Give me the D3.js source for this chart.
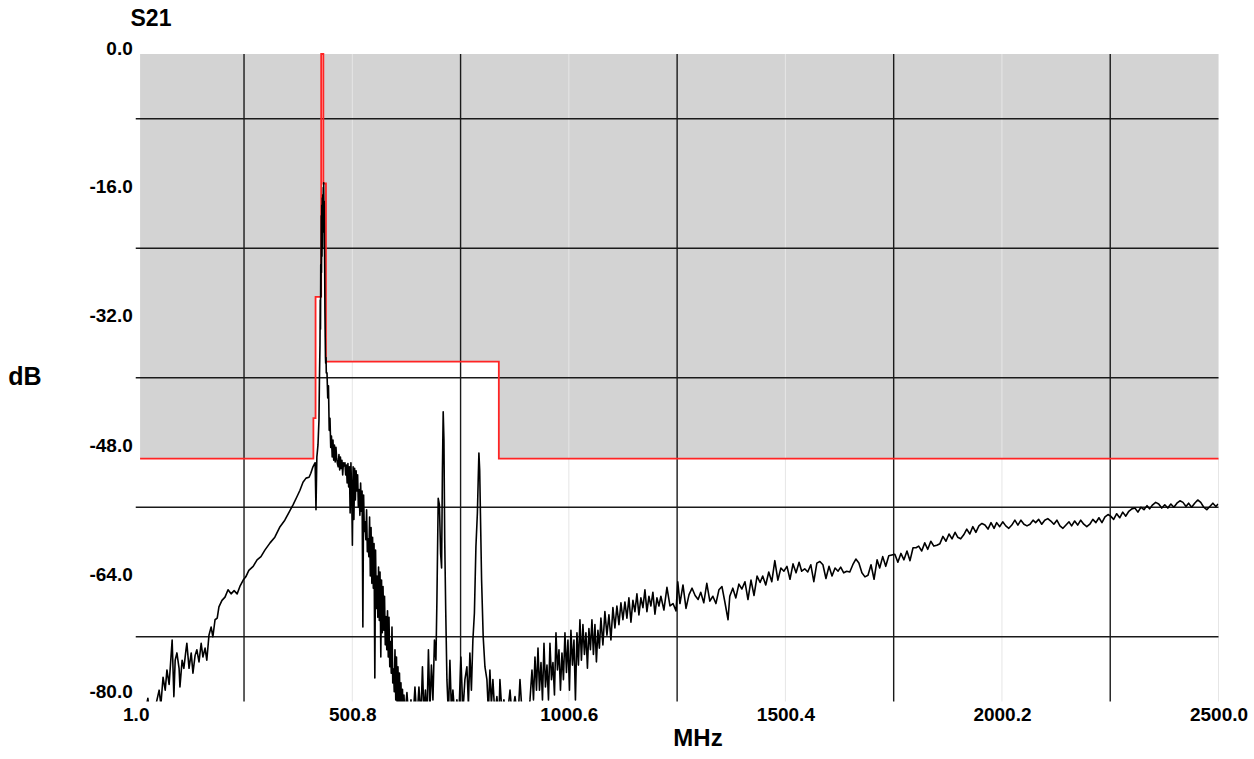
<!DOCTYPE html>
<html><head><meta charset="utf-8">
<script src="https://cdn.jsdelivr.net/npm/d3@7"></script>
<style>
body{margin:0;background:#fff}
svg{display:block}
text{font-family:"Liberation Sans",Arial,Helvetica,sans-serif;font-weight:bold;fill:#000}
</style>
</head><body>
<svg id="chart" width="1254" height="759"></svg>
<script>
// ---- axis / grid values ----
const xTicks = [1.0, 500.8, 1000.6, 1500.4, 2000.2, 2500.0];
const xGridMajor = [250.9, 750.7, 1250.5, 1750.3, 2250.1];
const yTicks = [0, -16, -32, -48, -64, -80];
const yGridMajor = [-8, -24, -40, -56, -72];

// ---- limit mask (step edges in MHz, levels in dB) ----
const limitFreq = [11, 411, 416, 429, 434, 440, 839, 2500];
const limitDb = [-50, -45, -30, 0, -16, -38, -50];

// ---- measured S21 trace [MHz, dB] ----
const riseTrace = [[11,-82],[20,-82],[29,-79.6],[34,-82],[43,-81.5],[50,-79.8],[55,-78.6],[59,-80.4],[64,-77],[69,-78.6],[73,-76.1],[78,-77.9],[85,-72.4],[89,-79.4],[92,-74.9],[96,-74],[101,-75.9],[103,-78.2],[108,-74.9],[112,-75.9],[117,-73.6],[119,-72.8],[124,-75.9],[129,-74],[133,-76.5],[138,-74.3],[142,-73.6],[147,-75.1],[152,-72.8],[156,-74.5],[161,-73.4],[165,-74.9],[170,-71.8],[175,-70.8],[179,-72],[184,-69.9],[189,-69.7],[193,-68.3],[200,-67.5],[207,-67.1],[214,-66.2],[221,-66.7],[228,-66.3],[235,-66.7],[242,-65.7],[249,-65],[255,-64.6],[262,-63.8],[272,-63.3],[281,-62.5],[290,-62.1],[299,-61.3],[311,-60.4],[322,-59.7],[334,-58.4],[345,-57.6],[355,-56.6],[364,-55.7],[373,-54.7],[380,-53.9],[387,-52.9],[394,-52.4],[401,-52.3],[405,-51.8],[410,-51],[415,-50.5],[417,-56.3],[419,-49.8]];

const peakTrace = [[421.6,-48.3],[423.9,-45.2],[425,-40],[426.2,-36],[426.8,-30.4],[427.4,-34],[428,-26],[428.6,-30],[429.2,-20],[429.7,-27],[430.3,-18.7],[430.9,-25],[431.5,-17.8],[432,-24],[432.6,-17.4],[433.2,-22],[433.8,-16.5],[434.4,-20],[434.8,-15.9],[435.4,-19],[436,-18.2],[436.6,-24],[437.1,-27],[437.7,-32],[438.3,-35],[438.9,-37.5],[439.4,-38.2],[440.2,-37.5],[440.8,-39.4],[442.4,-39.4],[444.1,-42.5],[445.8,-41],[447.5,-46.5],[449.3,-45],[451,-48.6],[452.7,-47.2],[454.4,-49.8],[456.2,-47.7],[457.9,-50.2],[459.6,-48.3],[461.3,-50.4],[463.1,-48.6],[464.8,-50],[466.5,-50.6],[468.2,-51],[470,-49.5],[471.7,-51.4],[473.4,-49.8],[475.1,-51.2],[476.9,-50.2],[478.6,-52],[480.3,-50.5],[482,-50.9],[483.8,-50.5],[485.5,-52],[487.2,-50.8],[488.9,-53],[490.7,-50.6],[492.4,-53.5],[494.1,-51],[495.8,-56.7],[497.6,-50.5],[499.3,-53.9],[501,-60.7],[502.7,-51],[504.5,-57.5],[506.2,-51.2],[507.9,-55.1],[509.6,-51.5],[511.4,-54],[513.1,-52],[514.8,-56],[516.5,-53.8],[518.3,-57],[520,-53],[521.7,-56.5],[523.4,-54],[525.2,-70.8],[526.9,-54.5],[528.6,-59],[530.3,-57.8],[532.1,-60],[533.8,-56.3],[535.5,-61.5],[537.2,-59.9],[539,-62.1],[540.7,-57.2],[542.4,-64.5],[544.1,-58.5],[545.9,-65.4],[547.6,-59.7],[549.3,-66],[551,-60.5],[552.8,-77.1],[554.5,-61.3],[556.2,-68.5],[557.9,-64.5],[559.7,-69.6],[561.4,-63.4],[563.1,-70],[564.8,-64],[566.6,-74.5],[568.3,-65],[570,-71.5],[571.7,-65.8],[573.5,-71.2],[575.2,-67],[576.9,-73],[578.6,-69.5],[580.4,-73.6],[582.1,-68.8],[583.8,-74.5],[585.5,-69.6],[587.3,-75.7],[589,-72.6],[590.7,-76.5],[592.4,-70.8],[594.2,-77.7],[595.9,-76],[597.6,-78.8],[599.3,-73.6],[601.1,-79.8],[602.8,-74.5],[604.5,-81],[606.2,-75.7],[608,-81],[609.7,-76.5],[611.4,-81.3],[613.1,-77.7],[614.9,-82],[616.6,-78.5],[618.3,-82],[620,-79.2],[622.3,-81.7],[626.9,-78.9],[631.5,-82.3],[636.2,-79.8],[640.8,-82.5],[645.4,-78.2],[650,-82.3],[654.6,-78.2],[659.3,-81.9],[662.7,-75.7],[666.2,-81.7],[669.6,-78.6],[673.1,-82.3],[676.5,-73.6],[680,-81],[683.4,-75.5],[686.9,-79.8],[690.4,-72.4],[693.8,-74.9]];

const spurTrace = [[696.1,-67.5],[699.1,-54.9],[701.9,-55.7],[704.6,-61.7],[706.9,-63.5],[708.8,-51.4],[710.6,-44.2],[712.3,-47.7],[714.1,-60],[716.4,-68.7],[719.2,-77.3],[722.6,-81.7],[726.1,-74.9],[729.5,-81],[733,-78.6],[737.6,-81.9],[742.2,-79.8],[746.8,-81.7],[751.4,-74.5],[756.1,-81.3],[760.7,-77.3],[765.3,-75.7],[768.8,-80.4],[772.2,-74],[775.7,-78.6],[779.1,-72.4],[782.6,-69.1],[786.1,-60.9],[789.5,-56.7],[791.4,-52.6],[793,-49.3],[794.8,-51.4],[796.5,-56.7],[799.2,-65],[802.9,-72],[806.9,-75.7],[811.5,-77.3],[814.9,-81.3],[818.4,-76.1],[821.8,-80.4],[825.3,-77.3],[829.9,-81.7],[834.5,-79.4],[839.2,-82.3],[841.5,-77.3],[846.1,-81.3],[850.7,-79.8],[857.6,-82.3],[864.8,-78.6],[869.4,-81.7],[876.3,-79.4],[883.2,-82.3],[887.8,-77.3],[892.5,-81.3],[899.4,-80.4],[906.3,-82.3],[910.9,-79.8]];

const recoveryTrace = [[915.5,-76.1],[919,-79.8],[922.4,-74.5],[925.9,-78.6],[929.4,-73.4],[932.8,-78.6],[936.3,-75.2],[939.7,-79.8],[943.2,-72.8],[946.6,-78.2],[950.1,-75.5],[953.6,-79.8],[957,-72.8],[960.5,-77.3],[963.9,-75.2],[967.4,-79.2],[970.9,-71.5],[974.3,-76.1],[977.8,-73.6],[981.2,-78.6],[984.7,-74],[988.1,-77.3],[991.6,-71.5],[995.1,-76.4],[998.5,-72.4],[1002,-78.6],[1005.4,-71.2],[1008.9,-75.5],[1012.4,-72.4],[1015.8,-79.8],[1019.3,-71.5],[1022.7,-75.5],[1026.2,-69.9],[1029.6,-74.9],[1033.1,-70.5],[1036.6,-74.2],[1040,-71.5],[1043.5,-75.9],[1046.9,-71],[1050.4,-73.6],[1053.9,-69.9],[1057.3,-74.2],[1060.8,-70.5],[1064.2,-75.1],[1067.7,-71.2],[1071.1,-73.4],[1074.6,-69.7],[1079.2,-73],[1083.8,-68.9],[1088.5,-71.8],[1093.1,-69.3],[1097.7,-72.4],[1102.3,-68.4],[1106.9,-70.9],[1111.5,-68.2],[1116.2,-70.5],[1120.8,-67.8],[1125.4,-69.9],[1130,-67.7],[1134.6,-69.7],[1139.2,-67.2],[1143.9,-70.2],[1148.5,-67.5],[1153.1,-68.9],[1157.7,-66.7],[1162.3,-69.3],[1166.9,-67.2],[1171.6,-68.4],[1176.2,-66.2],[1180.8,-68.9],[1185.4,-67],[1190,-68.2],[1194.6,-66.5],[1199.3,-69.2],[1203.9,-67.2],[1208.5,-68.2]];

const tailTrace = [[1213,-67],[1220,-68.7],[1227,-65.9],[1234,-68.2],[1241,-67.9],[1248,-68.8],[1252,-65.2],[1257,-67.9],[1264,-65.6],[1271,-68.5],[1278,-66.8],[1285,-66],[1292,-66.9],[1299,-67.4],[1305,-66.5],[1312,-67.8],[1319,-65.4],[1326,-67.6],[1333,-67],[1340,-67.9],[1347,-66.2],[1354,-65.8],[1361,-67.8],[1368,-69.9],[1372,-67],[1379,-66],[1386,-67.2],[1393,-65.5],[1400,-66.1],[1407,-65.2],[1414,-67.4],[1421,-65],[1428,-66.9],[1435,-64.5],[1442,-65.3],[1448,-64.5],[1455,-65.6],[1462,-64],[1469,-65.2],[1476,-62.6],[1483,-65],[1490,-63.5],[1497,-63.9],[1504,-63.3],[1511,-64.9],[1518,-63],[1525,-64.1],[1532,-62.8],[1538,-63.9],[1545,-63.6],[1552,-64],[1559,-63.1],[1566,-65.2],[1573,-62.9],[1580,-62.7],[1587,-63.1],[1594,-64.8],[1601,-63.3],[1608,-64.5],[1615,-63.5],[1622,-63.9],[1628,-63.4],[1635,-64.1],[1642,-63.9],[1649,-64],[1656,-63.1],[1663,-62.4],[1670,-62.9],[1677,-64.1],[1684,-64.6],[1691,-64.4],[1698,-63.1],[1705,-64.9],[1712,-62.5],[1718,-63.5],[1725,-62.1],[1732,-63.3],[1739,-62],[1746,-61.9],[1753,-61.8],[1760,-62.8],[1767,-61.7],[1774,-62.5],[1781,-61.4],[1788,-62.6],[1795,-61],[1802,-61],[1808,-60.8],[1815,-61.4],[1822,-60.4],[1829,-61.2],[1836,-60.2],[1843,-60.8],[1850,-60.7],[1857,-60.5],[1864,-59.6],[1871,-60.2],[1878,-59.3],[1885,-59.9],[1892,-59.1],[1898,-59.7],[1905,-59.9],[1912,-59.4],[1919,-58.7],[1926,-59.3],[1933,-58.4],[1940,-59.1],[1947,-58.3],[1954,-58],[1961,-58.2],[1968,-58.7],[1975,-57.9],[1982,-58.6],[1988,-57.9],[1995,-58.4],[2002,-57.8],[2009,-58.3],[2016,-58.6],[2023,-58.2],[2030,-57.6],[2037,-58.2],[2044,-57.6],[2051,-58.1],[2058,-58.3],[2065,-58.1],[2072,-57.6],[2078,-57.9],[2085,-57.5],[2092,-58.1],[2099,-57.6],[2106,-57.4],[2113,-57.7],[2120,-58.1],[2127,-57.6],[2134,-58.3],[2141,-58.6],[2148,-58.2],[2155,-57.8],[2161,-58.3],[2168,-57.7],[2175,-58.2],[2182,-57.6],[2189,-58.1],[2196,-58.4],[2203,-58.1],[2210,-57.5],[2217,-57.9],[2224,-57.3],[2231,-57.9],[2238,-57.2],[2245,-56.9],[2251,-57.1],[2258,-57.5],[2265,-56.8],[2272,-57.3],[2279,-56.6],[2286,-57.1],[2293,-56.5],[2300,-56.2],[2307,-56.1],[2314,-56.6],[2321,-56],[2328,-56.3],[2335,-55.8],[2341,-56.2],[2348,-55.7],[2355,-55.4],[2362,-55.6],[2369,-56.1],[2376,-55.7],[2383,-56.1],[2390,-55.6],[2397,-56],[2404,-55.5],[2411,-55.2],[2418,-55.4],[2425,-55.9],[2431,-55.5],[2438,-56],[2445,-55.5],[2452,-55.1],[2459,-55.4],[2466,-56],[2473,-56.3],[2480,-55.9],[2487,-55.5],[2494,-55.9],[2499,-55.6]];

// ---- drawing ----
const svg = d3.select("#chart");
const x = d3.scaleLinear().domain([1, 2500]).range([135.75, 1218.5]);
const y = d3.scaleLinear().domain([0, -80]).range([54, 701.5]);

const limitPts = limitDb.map((d, i) => [limitFreq[i], d]);
limitPts.push([limitFreq[limitFreq.length - 1], limitDb[limitDb.length - 1]]);

svg.append("defs").append("clipPath").attr("id", "plotClip")
  .append("rect").attr("x", x(1)).attr("y", y(0))
  .attr("width", x(2500) - x(1)).attr("height", y(-80) - y(0));

// gray forbidden region above the limit
svg.append("path").datum(limitPts)
  .attr("d", d3.area().curve(d3.curveStepAfter)
    .x(d => x(d[0])).y0(y(0)).y1(d => y(d[1])))
  .attr("fill", "#d3d3d3");

// light grid lines at labelled x positions
svg.append("g").selectAll("line").data(xTicks.slice(1)).join("line")
  .attr("x1", d => x(d)).attr("x2", d => x(d))
  .attr("y1", y(0)).attr("y2", y(-80))
  .attr("stroke", "#e6e6e6").attr("stroke-width", 1);

// black grid lines
svg.append("g").selectAll("line").data(yGridMajor).join("line")
  .attr("x1", x(1)).attr("x2", x(2500))
  .attr("y1", d => y(d)).attr("y2", d => y(d))
  .attr("stroke", "#1a1a1a").attr("stroke-width", 1.4);
svg.append("g").selectAll("line").data(xGridMajor).join("line")
  .attr("x1", d => x(d)).attr("x2", d => x(d))
  .attr("y1", y(0)).attr("y2", y(-80))
  .attr("stroke", "#1a1a1a").attr("stroke-width", 1.4);

// limit line
svg.append("path").datum(limitPts)
  .attr("d", d3.line().curve(d3.curveStepAfter).x(d => x(d[0])).y(d => y(d[1])))
  .attr("fill", "none").attr("stroke", "#ff2424").attr("stroke-width", 1.8);

// trace
const trace = [].concat(riseTrace, peakTrace, spurTrace, recoveryTrace, tailTrace);
svg.append("path").datum(trace)
  .attr("clip-path", "url(#plotClip)")
  .attr("d", d3.line().x(d => x(d[0])).y(d => y(d[1])))
  .attr("fill", "none").attr("stroke", "#000").attr("stroke-width", 1.6)
  .attr("stroke-linejoin", "round");

// axes labels
const fmt = d => d.toFixed(1);
const xAxis = svg.append("g").attr("transform", `translate(0,${y(-80)})`)
  .call(d3.axisBottom(x).tickValues(xTicks).tickSize(0).tickPadding(6).tickFormat(fmt));
xAxis.select(".domain").remove();
xAxis.selectAll("text").attr("font-size", 19).attr("fill", "#000")
  .style("font-family", '"Liberation Sans",Arial,sans-serif').style("font-weight", "bold");

const yAxis = svg.append("g").attr("transform", `translate(${x(1)},0)`)
  .call(d3.axisLeft(y).tickValues(yTicks).tickSize(0).tickPadding(3).tickFormat(fmt));
yAxis.select(".domain").remove();
yAxis.selectAll("text").attr("font-size", 19).attr("fill", "#000")
  .style("font-family", '"Liberation Sans",Arial,sans-serif').style("font-weight", "bold")
  .attr("dy", (d, i) => i === 0 ? "0em" : (i === yTicks.length - 1 ? "-0.2em" : "0.45em"));

svg.append("text").attr("x", 151).attr("y", 26).attr("text-anchor", "middle")
  .attr("font-size", 23).text("S21");
svg.append("text").attr("x", 25).attr("y", 385).attr("text-anchor", "middle")
  .attr("font-size", 25).text("dB");
svg.append("text").attr("x", 698).attr("y", 746).attr("text-anchor", "middle")
  .attr("font-size", 24).text("MHz");
</script>
</body></html>
